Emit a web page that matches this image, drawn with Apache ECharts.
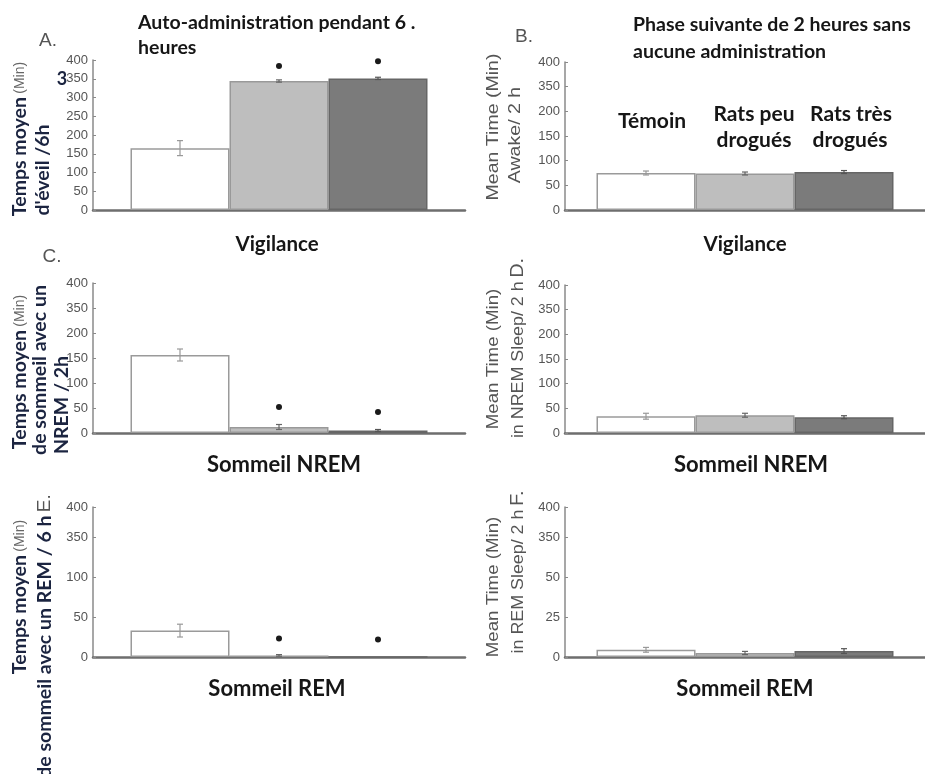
<!DOCTYPE html>
<html><head><meta charset="utf-8">
<script src="https://cdn.jsdelivr.net/npm/echarts@6/dist/echarts.min.js"></script>
<style>html,body{margin:0;padding:0;background:#fff}#c{width:925px;height:774px}</style>
</head><body><div id="c"></div>
<script>
// ---- data ----
const groups = ['Témoin', 'Rats peu drogués', 'Rats très drogués'];
const valuesA = [165, 344, 351];
const errA = [20, 3, 3];
const starsA = [null, 384, 397];
const valuesB = [75, 74, 77];
const errB = [4, 3, 3];
const starsB = [null, null, null];
const valuesC = [156, 12, 5];
const errC = [12, 5, 2];
const starsC = [null, 52, 42];
const valuesD = [34, 36, 32];
const errD = [6, 4, 3];
const starsD = [null, null, null];
const valuesE = [33, 2, 0];
const errE = [8, 1, 0];
const starsE = [null, 23, 22];
const valuesF = [4.5, 2.5, 3.7];
const errF = [1.5, 1, 1.5];
const starsF = [null, null, null];
const ticksA = ['0', '50', '100', '150', '200', '250', '300', '350', '400'];
const ticksBCD = ['0', '50', '100', '150', '200', '350', '400'];
const ticksE = ['0', '50', '100', '350', '400'];
const ticksF = ['0', '25', '50', '350', '400'];

// ---- styles ----
const BAR_W = 99;
const barStyles = [
  {color: '#ffffff', borderColor: '#9a9a9a', borderWidth: 1.5},
  {color: '#bebebe', borderColor: '#999999', borderWidth: 1.5},
  {color: '#7b7b7b', borderColor: '#666666', borderWidth: 1.5}
];
const errColors = ['#999999', '#666666', '#555555'];

const panels = [
  {grid: {left: 93, top: 60, width: 372, height: 150}, max: 400, interval: 50, ticks: ticksA, vals: valuesA, err: errA, stars: starsA},
  {grid: {left: 565, top: 62, width: 373, height: 148}, max: 300, interval: 50, ticks: ticksBCD, vals: valuesB, err: errB, stars: starsB},
  {grid: {left: 93, top: 283, width: 372, height: 150}, max: 300, interval: 50, ticks: ticksBCD, vals: valuesC, err: errC, stars: starsC},
  {grid: {left: 565, top: 285, width: 373, height: 148}, max: 300, interval: 50, ticks: ticksBCD, vals: valuesD, err: errD, stars: starsD},
  {grid: {left: 93, top: 507, width: 372, height: 150}, max: 187.5, interval: 50, ticks: ticksE, vals: valuesE, err: errE, stars: starsE},
  {grid: {left: 565, top: 507, width: 373, height: 150}, max: 93.75, interval: 25, ticks: ticksF, vals: valuesF, err: errF, stars: starsF}
];

const grid = [], xAxis = [], yAxis = [], series = [];
panels.forEach((p, i) => {
  grid.push(Object.assign({containLabel: false}, p.grid));
  xAxis.push({
    type: 'category', gridIndex: i, data: [''],
    axisLine: {lineStyle: {color: '#6e6e6e', width: 2.5}},
    axisTick: {show: false}, axisLabel: {show: false}, splitLine: {show: false}
  });
  const labels = p.ticks;
  yAxis.push({
    type: 'value', gridIndex: i, min: 0, max: p.max, interval: p.interval,
    axisLine: {show: true, lineStyle: {color: '#8a8a8a', width: 1.5}},
    axisTick: {show: true, inside: true, length: 3, lineStyle: {color: '#8a8a8a'}},
    splitLine: {show: false},
    axisLabel: {
      color: '#555555', fontSize: 13, fontFamily: 'Liberation Sans', margin: 5,
      formatter: (v, idx) => labels[idx]
    }
  });
  groups.forEach((g, k) => {
    series.push({
      type: 'bar', name: g, xAxisIndex: i, yAxisIndex: i,
      barWidth: BAR_W, barGap: '0%',
      itemStyle: barStyles[k],
      data: [p.vals[k]], silent: true
    });
  });
  // error bars
  series.push({
    type: 'custom', xAxisIndex: i, yAxisIndex: i, z: 5, silent: true,
    encode: {x: 0, y: 1},
    data: p.vals.map((v, k) => [0, v, p.err[k], k]),
    renderItem: (params, api) => {
      const v = api.value(1), e = api.value(2), k = api.value(3);
      if (!e) return null;
      const base = api.coord([0, v]);
      const x = base[0] + (k - 1) * BAR_W;
      const yt = api.coord([0, v + e])[1];
      const yb = api.coord([0, Math.max(0, v - e)])[1];
      const st = {stroke: errColors[k], lineWidth: 1.2};
      return {type: 'group', children: [
        {type: 'line', shape: {x1: x, y1: yt, x2: x, y2: yb}, style: st},
        {type: 'line', shape: {x1: x - 3, y1: yt, x2: x + 3, y2: yt}, style: st},
        {type: 'line', shape: {x1: x - 3, y1: yb, x2: x + 3, y2: yb}, style: st}
      ]};
    }
  });
  // significance stars
  const sd = [];
  p.stars.forEach((s, k) => { if (s != null) sd.push([0, s, k]); });
  if (sd.length) series.push({
    type: 'custom', xAxisIndex: i, yAxisIndex: i, z: 6, silent: true,
    encode: {x: 0, y: 1},
    data: sd,
    renderItem: (params, api) => {
      const c = api.coord([0, api.value(1)]);
      const x = c[0] + (api.value(2) - 1) * BAR_W;
      return {type: 'circle', shape: {cx: x, cy: c[1], r: 3}, style: {fill: '#1a1a1a'}};
    }
  });
});

const BOLD = 'Lato';
const ink = '#161616';
function txt(x, y, text, size, opts) {
  return Object.assign({type: 'text', x: x, y: y, style: Object.assign({
    text: text, fontFamily: BOLD, fontWeight: 'bold', fontSize: size, fill: ink,
    align: 'left', verticalAlign: 'middle'
  }, (opts && opts.style) || {})}, (opts && opts.el) || {});
}
function center(x, y, text, size) { return txt(x, y, text, size, {style: {align: 'center'}}); }
function letter(x, y, t) {
  return txt(x, y, t, 19, {style: {align: 'center', fontFamily: 'Liberation Sans', fontWeight: 'normal', fill: '#555'}});
}
const richY = {
  b: {fontFamily: BOLD, fontWeight: 'bold', fontSize: 19.5, fill: '#1b2440'},
  g: {fontFamily: 'Liberation Sans', fontSize: 14, fill: '#666'},
  m: {fontFamily: 'Liberation Sans', fontSize: 17, fill: '#555'},
  L: {fontFamily: 'Liberation Sans', fontSize: 19, fill: '#555'}
};
function vlab(x, y, text, sx) {
  return {type: 'text', x: x, y: y, rotation: Math.PI / 2, scaleX: sx || 1,
    style: {text: text, rich: richY, align: 'center', verticalAlign: 'middle'}};
}

const graphic = [
  txt(138, 23, 'Auto-administration pendant 6 .', 19.5),
  txt(138, 48, 'heures', 19.5),
  txt(633, 25, 'Phase suivante de 2 heures sans', 19.5),
  txt(633, 52, 'aucune administration', 19.5),
  center(652, 121, 'Témoin', 21),
  center(754, 114, 'Rats peu', 21),
  center(754, 140, 'drogués', 21),
  center(851, 114, 'Rats très', 21),
  center(850, 140, 'drogués', 21),
  center(277, 244, 'Vigilance', 20.5),
  center(745, 244, 'Vigilance', 20.5),
  center(284, 465, 'Sommeil NREM', 22),
  center(751, 465, 'Sommeil NREM', 22),
  center(277, 689, 'Sommeil REM', 22),
  center(745, 689, 'Sommeil REM', 22),
  letter(48, 41, 'A.'),
  letter(524, 37, 'B.'),
  letter(52, 257, 'C.'),
  txt(62, 79, '3', 18, {style: {align: 'center', fill: '#1b2440'}}),
  vlab(20, 139, '{b|Temps moyen} {g|(Min)}'),
  vlab(43, 170, "{b|d'éveil /6h}"),
  vlab(493, 127, '{m|Mean Time (Min)}', 1.15),
  vlab(515, 135, '{m|Awake/ 2 h}', 1.15),
  vlab(20, 372, '{b|Temps moyen} {g|(Min)}'),
  vlab(40, 370, '{b|de sommeil avec un}'),
  vlab(62, 405, '{b|NREM / 2h}'),
  vlab(493, 359, '{m|Mean Time (Min)}', 1.1),
  vlab(518, 348, '{m|in NREM Sleep/ 2 h} {L|D.}', 1.05),
  vlab(20, 597, '{b|Temps moyen} {g|(Min)}'),
  vlab(45, 636, '{b|de sommeil avec un REM / 6 h} {L|E.}'),
  vlab(493, 587, '{m|Mean Time (Min)}', 1.1),
  vlab(518, 572, '{m|in REM Sleep/ 2 h} {L|F.}', 1.05)
];

const chart = echarts.init(document.getElementById('c'), null, {renderer: 'canvas'});
chart.setOption({
  backgroundColor: '#ffffff',
  animation: false,
  grid: grid, xAxis: xAxis, yAxis: yAxis, series: series, graphic: graphic
});
</script></body></html>
